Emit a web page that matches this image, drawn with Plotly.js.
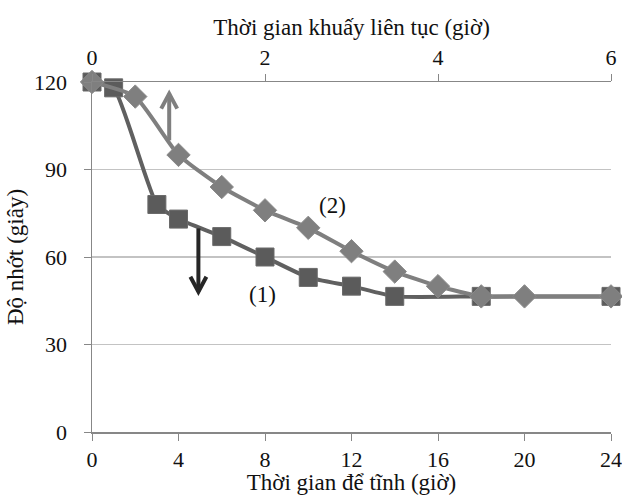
<!DOCTYPE html>
<html>
<head>
<meta charset="utf-8">
<script src="https://cdn.plot.ly/plotly-3.0.1.min.js"></script>
<style>html,body{margin:0;padding:0;background:#fff;}#chart{width:622px;height:495px;}</style>
</head>
<body>
<div id="chart"></div>
<script>
// Series (1): standing time (bottom axis, hours)
const standHours = [0, 1, 3, 4, 6, 8, 10, 12, 14, 18, 24];
const standViscosity = [120, 118, 78, 73, 67, 60, 53, 50, 46.5, 46.5, 46.5];
// Series (2): continuous stirring time (top axis, hours)
const stirHours = [0, 0.5, 1, 1.5, 2, 2.5, 3, 3.5, 4, 4.5, 5, 6];
const stirViscosity = [120, 115, 95, 84, 76, 70, 62, 55, 50, 46.5, 46.5, 46.5];

const bottomTicks = [0, 4, 8, 12, 16, 20, 24];
const topTicks = [0, 2, 4, 6];
const yTicks = [0, 30, 60, 90, 120];

const seriesLabels = ["(1)", "(2)"];
const labelX = [7.9, 11.1];
const labelY = [47.3, 77.8];

// arrows (bottom-axis data units): x, start y, tip y
const arrowUp = {x: 3.57, y0: 100, y1: 116};
const arrowDown = {x: 4.92, y0: 69.8, y1: 48.1};

const FONT = "Liberation Serif";
const AXIS_COLOR = "#878787";
const TICK_SIZE = 22;
const TITLE_SIZE = 23;

const traces = [
  {
    x: stirHours, y: stirViscosity, xaxis: "x2", yaxis: "y",
    mode: "lines+markers", type: "scatter", cliponaxis: false,
    line: {color: "#7f7f7f", width: 4, shape: "spline", smoothing: 0.5},
    marker: {symbol: "diamond", size: 18, color: "#7f7f7f", line: {color: "#8a8a8a", width: 1}},
    showlegend: false, hoverinfo: "x+y"
  },
  {
    x: standHours, y: standViscosity, xaxis: "x", yaxis: "y",
    mode: "lines+markers", type: "scatter", cliponaxis: false,
    line: {color: "#606060", width: 4, shape: "spline", smoothing: 0.5},
    marker: {symbol: "square", size: 18, color: "#5b5b5b", line: {color: "#6a6a6a", width: 1}},
    showlegend: false, hoverinfo: "x+y"
  }
];

function chevron(a, up, color) {
  const d = up ? "M-8,-15 L0,0 L8,-15" : "M-8,15 L0,0 L8,15";
  return [
    {type: "line", xref: "x", yref: "y", x0: a.x, x1: a.x, y0: a.y0, y1: a.y1,
     line: {color: color, width: 4}},
    {type: "path", xref: "x", yref: "y", xsizemode: "pixel", ysizemode: "pixel",
     xanchor: a.x, yanchor: a.y1, path: d, line: {color: color, width: 4}}
  ];
}

const layout = {
  width: 622, height: 495,
  margin: {l: 92, r: 11, t: 82, b: 63},
  paper_bgcolor: "#ffffff", plot_bgcolor: "#ffffff",
  font: {family: FONT, size: TICK_SIZE, color: "#111111"},
  xaxis: {
    range: [0, 24], tickvals: bottomTicks, ticktext: bottomTicks.map(String),
    showgrid: false, zeroline: false, showline: true, linecolor: AXIS_COLOR, linewidth: 1.5,
    ticks: "outside", ticklen: 7, tickcolor: AXIS_COLOR, tickwidth: 1,
    tickfont: {family: FONT, size: TICK_SIZE, color: "#111"},
    title: {text: "Thời gian để tĩnh (giờ)", font: {family: FONT, size: TITLE_SIZE, color: "#111"}, standoff: 0},
    fixedrange: true
  },
  xaxis2: {
    range: [0, 6], overlaying: "x", side: "top", anchor: "y",
    tickvals: topTicks, ticktext: topTicks.map(String),
    showgrid: false, zeroline: false, showline: true, linecolor: AXIS_COLOR, linewidth: 1.5,
    ticks: "outside", ticklen: 7, tickcolor: AXIS_COLOR, tickwidth: 1,
    tickfont: {family: FONT, size: TICK_SIZE, color: "#111"},
    title: {text: "Thời gian khuấy liên tục (giờ)", font: {family: FONT, size: TITLE_SIZE, color: "#111"}, standoff: 2},
    fixedrange: true
  },
  yaxis: {
    range: [0, 120], tickvals: yTicks, ticktext: yTicks.map(String),
    showgrid: true, gridcolor: "#c3c3c3", gridwidth: 1.5,
    zeroline: false, showline: true, linecolor: AXIS_COLOR, linewidth: 1.5,
    ticks: "outside", ticklen: 7, tickcolor: AXIS_COLOR, tickwidth: 1, ticklabelstandoff: 12,
    tickfont: {family: FONT, size: TICK_SIZE, color: "#111"},
    title: {text: "Độ nhớt (giây)", font: {family: FONT, size: TITLE_SIZE, color: "#111"}, standoff: 4},
    fixedrange: true
  },
  shapes: [].concat(chevron(arrowUp, true, "#7f7f7f"), chevron(arrowDown, false, "#262626")),
  annotations: seriesLabels.map((t, i) => ({
    text: t, x: labelX[i], y: labelY[i], xref: "x", yref: "y",
    showarrow: false, font: {family: FONT, size: TITLE_SIZE, color: "#111"}
  }))
};

Plotly.newPlot("chart", traces, layout, {displayModeBar: false, staticPlot: true});
</script>
</body>
</html>
